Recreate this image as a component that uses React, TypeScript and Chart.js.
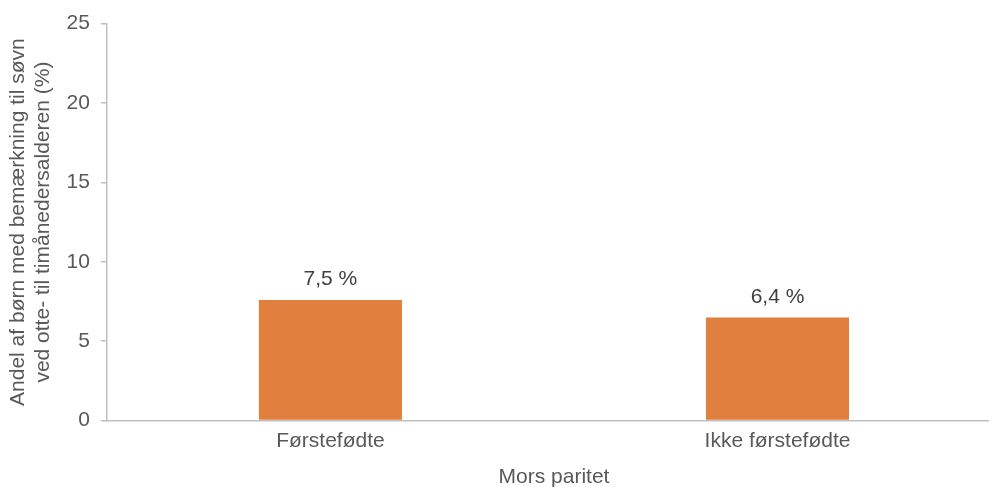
import React, { useEffect, useRef } from "react";
import { Chart, registerables } from "chart.js";

Chart.register(...registerables);

const categories = ["Førstefødte", "Ikke førstefødte"];
const values = [7.6, 6.5];
const valueLabels = ["7,5 %", "6,4 %"];
const yTicks = [0, 5, 10, 15, 20, 25];
const yTitle = ["Andel af børn med bemærkning til søvn", "ved otte- til timånedersalderen (%)"];
const xTitle = "Mors paritet";

const FONT = "'Liberation Sans', Arial, sans-serif";
const TEXT = "#595959";
const AXIS = "#bfbfbf";
const BAR = "#e07f3e";

const labelPlugin = {
  id: "valueLabels",
  afterDatasetsDraw(chart: any) {
    const ctx = chart.ctx;
    const meta = chart.getDatasetMeta(0);
    ctx.save();
    ctx.font = `21px ${FONT}`;
    ctx.fillStyle = "#404040";
    ctx.textAlign = "center";
    ctx.textBaseline = "bottom";
    meta.data.forEach((bar: any, i: number) => {
      ctx.fillText(valueLabels[i], bar.x, bar.y - 10);
    });
    ctx.restore();
  },
};

export default function App() {
  const ref = useRef<HTMLCanvasElement | null>(null);
  useEffect(() => {
    document.body.style.margin = "0";
    document.body.style.overflow = "hidden";
    const chart = new Chart(ref.current!, {
      type: "bar",
      data: {
        labels: categories,
        datasets: [
          {
            data: values,
            backgroundColor: BAR,
            categoryPercentage: 1,
            barPercentage: 0.32,
          },
        ],
      },
      options: {
        animation: false,
        responsive: false,
        layout: { padding: { top: 12, left: 6, right: 0, bottom: 0 } },
        plugins: { legend: { display: false }, tooltip: { enabled: false } },
        scales: {
          x: {
            offset: true,
            grid: { display: false, drawTicks: false },
            border: { color: AXIS, width: 1.5 },
            ticks: { color: TEXT, font: { family: FONT, size: 21 }, padding: 8 },
            title: { display: true, text: xTitle, color: TEXT, font: { family: FONT, size: 21 }, padding: { top: 3, bottom: 0 } },
          },
          y: {
            min: 0,
            max: 25,
            afterBuildTicks(axis: any) {
              axis.ticks = yTicks.map((v) => ({ value: v }));
            },
            grid: { drawOnChartArea: false, drawTicks: true, tickLength: 6, color: AXIS, lineWidth: 1.5 },
            border: { color: AXIS, width: 1.5 },
            ticks: { color: TEXT, font: { family: FONT, size: 21 }, padding: 11 },
            title: { display: true, text: yTitle, color: TEXT, font: { family: FONT, size: 21, lineHeight: 1.18 }, padding: { top: 0, bottom: 0 } },
          },
        },
      },
      plugins: [labelPlugin],
    });
    return () => chart.destroy();
  }, []);
  return (
    <div style={{ position: "absolute", left: 0, top: 0, width: 1001, height: 490 }}>
      <canvas ref={ref} width={1001} height={490} style={{ display: "block" }} />
    </div>
  );
}
